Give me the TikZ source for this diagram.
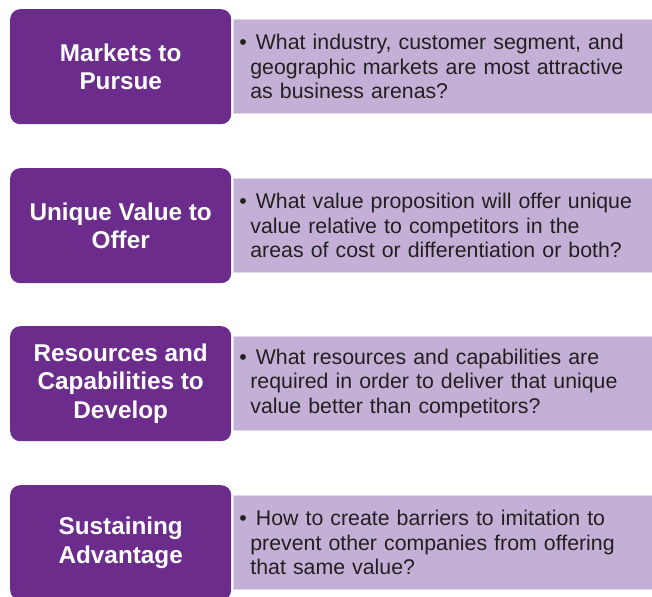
\documentclass[tikz,border=0pt]{standalone}
\usepackage{fontspec}
\setmainfont{Liberation Sans}
\definecolor{deeppurple}{RGB}{108,44,140}
\definecolor{lightpurple}{RGB}{196,176,214}
\definecolor{lightedge}{RGB}{226,216,236}
\definecolor{bodytext}{RGB}{35,31,32}
\tikzset{
  headbox/.style={rectangle, rounded corners=10pt, fill=deeppurple, draw=none,
    minimum width=221pt, minimum height=115pt, anchor=north west,
    text=white, align=center, font=\bfseries\fontsize{24.3}{28.4}\selectfont},
  infobox/.style={rectangle, fill=lightpurple, draw=lightedge, line width=0.8pt,
    minimum width=419pt, minimum height=94pt, anchor=north west,
    inner xsep=6pt, text width=407pt, text=bodytext,
    font=\fontsize{21.3}{24.8}\selectfont}
}
\newcommand{\bulletpara}[1]{\noindent\hangindent=11pt\hangafter=1\makebox[16.5pt][l]{\textbullet}#1\par}
\begin{document}
\begin{tikzpicture}[x=1pt,y=-1pt]
\useasboundingbox (0,0) rectangle (652,596);
\clip (0,0) rectangle (652,596);
\node[headbox] (h1) at (10,9) {Markets to\\Pursue};
\node[infobox] (i1) at (233,19) {\bulletpara{What industry, customer segment, and\newline geographic markets are most attractive\newline as business arenas?}};
\node[headbox] (h2) at (10,168) {Unique Value to\\Offer};
\node[infobox] (i2) at (233,178) {\bulletpara{What value proposition will offer unique\newline value relative to competitors in the\newline areas of cost or differentiation or both?}};
\node[headbox] (h3) at (10,326) {Resources and\\Capabilities to\\Develop};
\node[infobox] (i3) at (233,336) {\bulletpara{What resources and capabilities are\newline required in order to deliver that unique\newline value better than competitors?}};
\node[headbox] (h4) at (10,485) {Sustaining\\Advantage};
\node[infobox] (i4) at (233,495) {\bulletpara{How to create barriers to imitation to\newline prevent other companies from offering\newline that same value?}};
\end{tikzpicture}
\end{document}
